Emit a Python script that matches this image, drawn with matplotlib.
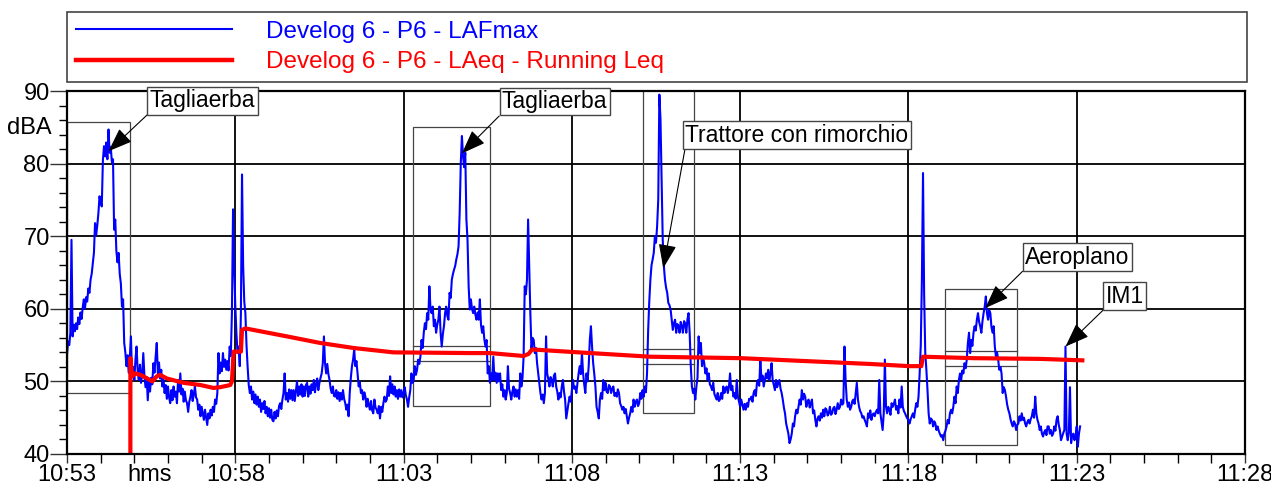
import matplotlib
matplotlib.use('Agg')
import numpy as np
import matplotlib.pyplot as plt
import matplotlib.transforms as mtransforms
from matplotlib.lines import Line2D
from matplotlib.patches import Rectangle
from matplotlib.ticker import MultipleLocator

plt.rcParams['font.family'] = ['Liberation Sans', 'DejaVu Sans']

# LAFmax, one value every 2 s from 10:53:00 (one row = 30 s), dB(A)
laf_step = 2
laf_db = [
    53.7, 55.5, 55.0, 56.7, 69.5, 56.2, 57.8, 56.9, 58.0, 57.2, 58.8, 57.9, 59.5, 58.6, 60.2,
    61.3, 60.0, 61.6, 61.0, 62.8, 62.2, 64.0, 64.8, 66.3, 67.7, 71.8, 70.2, 71.5, 73.2, 75.5,
    74.6, 74.1, 80.5, 82.4, 81.0, 82.9, 80.6, 84.7, 81.5, 82.3, 80.2, 80.6, 70.9, 72.3, 68.0,
    66.4, 67.7, 64.8, 63.5, 60.3, 61.3, 55.3, 54.0, 52.1, 53.6, 51.2, 53.4, 56.2, 50.6, 52.0,
    50.2, 53.0, 54.8, 51.4, 50.2, 52.3, 49.8, 51.0, 53.9, 50.8, 49.2, 50.6, 47.4, 50.2, 48.6,
    50.5, 49.6, 52.5, 51.2, 53.4, 55.3, 51.1, 52.6, 50.4, 51.6, 49.3, 50.2, 48.4, 49.5, 47.6,
    49.3, 47.8, 47.0, 48.8, 47.4, 49.3, 47.9, 48.6, 47.0, 50.2, 48.6, 51.1, 48.2, 49.0, 47.2,
    48.6, 47.4, 47.0, 45.8, 47.2, 47.9, 48.8, 47.3, 48.2, 49.3, 47.8, 47.5, 46.1, 46.8, 45.2,
    46.5, 45.6, 44.7, 46.1, 45.0, 44.0, 45.6, 44.9, 46.1, 45.3, 46.5, 45.8, 47.5, 46.9, 48.4,
    53.9, 51.1, 52.6, 51.4, 53.9, 52.0, 53.0, 51.6, 52.8, 51.5, 54.8, 53.5, 59.4, 73.7, 66.0,
    60.5, 56.7, 53.9, 54.8, 52.1, 59.4, 78.5, 66.0, 61.0, 59.4, 55.0, 52.0, 49.5, 48.4, 49.3,
    47.5, 48.6, 47.0, 48.2, 46.8, 47.9, 46.5, 47.5, 45.8, 47.0, 46.2, 47.3, 45.6, 46.5, 45.2,
    46.3, 45.0, 46.1, 44.7, 44.5, 45.8, 44.9, 46.0, 45.2, 46.6, 47.0, 46.2, 47.5, 48.4, 51.1,
    47.5, 48.4, 47.2, 48.9, 47.6, 48.8, 47.4, 48.8, 47.3, 48.6, 50.0, 48.0, 49.3, 48.2, 49.6,
    47.9, 49.3, 48.0, 49.5, 49.8, 47.9, 49.3, 48.3, 49.6, 48.8, 50.2, 48.5, 49.6, 50.4, 48.8,
    49.8, 50.5, 51.1, 52.5, 56.2, 52.5, 51.1, 52.4, 51.0, 50.2, 49.0, 48.4, 49.3, 48.0, 47.9,
    48.8, 47.6, 48.5, 47.3, 48.4, 47.5, 48.8, 47.6, 47.0, 46.1, 46.8, 45.2, 48.4, 50.5, 52.1,
    53.0, 54.4, 52.1, 52.8, 51.1, 49.3, 49.9, 48.4, 48.8, 47.5, 48.5, 47.9, 46.5, 47.6, 46.8,
    46.1, 47.3, 46.0, 45.6, 47.5, 46.4, 46.1, 45.6, 46.6, 44.9, 46.5, 45.8, 47.0, 47.9, 47.2,
    47.5, 49.3, 48.0, 50.7, 48.4, 49.6, 48.2, 49.3, 47.9, 48.8, 47.6, 48.9, 47.9, 48.8, 47.8,
    48.4, 49.2, 48.1, 47.5, 46.5, 47.8, 48.8, 51.1, 49.8, 50.2, 52.1, 50.9, 51.6, 53.0, 52.4,
    53.4, 55.7, 54.6, 56.7, 58.0, 57.2, 59.4, 58.5, 63.1, 60.0, 59.4, 60.3, 57.6, 58.5, 56.7,
    57.8, 58.5, 60.3, 56.7, 54.8, 56.5, 57.6, 59.4, 60.3, 59.0, 58.5, 62.2, 61.5, 64.0, 64.8,
    65.4, 65.9, 66.8, 67.5, 68.6, 73.2, 80.1, 83.8, 81.0, 79.5, 81.5, 72.3, 69.5, 63.1, 59.9,
    61.3, 60.0, 59.4, 60.3, 59.2, 58.5, 59.5, 58.5, 61.3, 57.8, 56.7, 57.6, 55.8, 54.8, 55.7,
    51.1, 52.1, 49.8, 51.1, 50.2, 53.4, 50.2, 51.2, 49.8, 51.1, 50.0, 51.1, 48.8, 49.6, 47.9,
    48.8, 47.5, 48.4, 52.1, 49.0, 48.4, 47.5, 48.6, 49.3, 47.9, 48.9, 47.9, 48.8, 47.6, 51.1,
    49.3, 50.5, 53.4, 63.1, 62.0, 64.0, 72.3, 65.9, 59.4, 54.4, 56.0, 55.7, 53.9, 54.6, 52.5,
    51.1, 49.8, 48.4, 47.5, 48.2, 47.0, 48.4, 56.2, 51.1, 50.3, 49.3, 50.6, 50.2, 49.3, 50.8,
    51.1, 49.3, 48.6, 47.5, 48.4, 47.8, 49.3, 50.2, 48.6, 47.5, 44.9, 46.0, 47.0, 47.9, 47.2,
    48.8, 50.2, 49.0, 49.3, 48.4, 49.8, 51.1, 52.1, 51.0, 53.9, 51.1, 49.6, 48.4, 51.1, 50.0,
    52.1, 55.7, 57.6, 54.8, 52.5, 51.0, 49.3, 46.5, 45.8, 44.9, 47.5, 48.4, 47.6, 50.2, 48.8,
    49.8, 48.6, 48.4, 49.5, 49.3, 48.4, 49.0, 49.3, 48.0, 48.4, 47.9, 48.9, 48.4, 47.0, 46.6,
    46.1, 46.5, 45.6, 46.2, 45.2, 44.2, 45.0, 45.6, 46.5, 45.8, 47.5, 46.5, 47.2, 47.5, 46.6,
    47.0, 48.4, 47.6, 48.8, 47.9, 49.3, 48.5, 51.1, 57.0, 61.0, 64.0, 66.0, 66.8, 67.7, 70.0,
    69.1, 71.4, 75.0, 89.5, 86.1, 77.8, 69.5, 65.9, 64.0, 62.9, 62.2, 60.8, 60.5, 59.9, 58.5,
    57.1, 58.0, 58.5, 56.7, 57.9, 57.6, 56.7, 58.2, 57.6, 56.7, 58.3, 58.0, 56.7, 58.5, 59.4,
    56.7, 52.1, 49.3, 48.4, 49.0, 47.5, 49.3, 50.5, 56.2, 53.9, 55.3, 52.1, 53.4, 52.5, 51.1,
    51.8, 50.2, 51.1, 49.6, 49.3, 48.8, 49.8, 48.3, 47.9, 47.5, 48.4, 47.3, 47.5, 48.4, 47.6,
    49.3, 48.4, 49.0, 49.3, 48.4, 49.2, 51.1, 48.8, 49.4, 47.9, 48.4, 47.6, 50.2, 47.9, 47.2,
    46.5, 47.5, 46.8, 46.1, 46.9, 46.1, 47.0, 46.5, 47.6, 47.5, 47.9, 47.2, 48.4, 48.8, 48.0,
    49.8, 50.2, 49.4, 53.0, 50.2, 50.8, 49.3, 50.2, 51.1, 50.4, 51.6, 50.2, 51.0, 52.5, 50.2,
    49.5, 48.8, 50.2, 49.2, 49.8, 50.2, 49.0, 48.4, 47.5, 46.4, 45.6, 44.2, 43.5, 42.8, 41.5,
    42.0, 42.8, 44.2, 43.8, 45.2, 46.1, 45.6, 46.5, 47.5, 46.8, 48.8, 47.5, 48.3, 47.9, 46.5,
    47.2, 47.5, 46.4, 47.0, 47.5, 45.6, 46.0, 44.7, 43.8, 44.9, 45.2, 44.6, 45.6, 45.0, 46.1,
    45.2, 46.3, 46.1, 45.3, 45.6, 46.5, 45.4, 45.6, 46.3, 46.5, 45.5, 46.1, 47.0, 46.2, 46.5,
    47.5, 46.8, 47.0, 54.8, 50.2, 47.5, 46.5, 47.1, 46.1, 46.5, 47.3, 47.5, 46.9, 48.4, 49.8,
    47.5, 46.5, 45.9, 45.6, 45.0, 45.2, 44.7, 44.3, 43.8, 45.6, 45.0, 46.0, 44.7, 45.4, 45.6,
    45.2, 45.8, 46.1, 45.6, 50.2, 45.6, 44.5, 43.3, 45.6, 53.0, 46.5, 45.6, 46.5, 46.1, 45.4,
    47.0, 46.5, 46.9, 47.5, 46.1, 46.6, 45.6, 47.5, 46.4, 49.3, 46.5, 45.9, 45.6, 45.2, 44.9,
    44.7, 44.2, 44.8, 45.2, 45.6, 45.0, 46.1, 47.0, 46.5, 47.9, 51.1, 55.0, 64.0, 78.7, 62.0,
    53.9, 51.6, 48.8, 45.6, 44.2, 44.9, 44.7, 43.8, 44.5, 44.2, 43.3, 43.8, 43.2, 42.8, 42.4,
    42.6, 41.9, 42.8, 43.2, 43.8, 44.7, 44.2, 45.6, 46.1, 45.6, 46.5, 47.9, 47.0, 49.3, 48.4,
    50.2, 51.1, 50.2, 51.5, 51.1, 52.5, 51.8, 53.0, 55.3, 56.7, 53.9, 55.7, 54.9, 56.7, 57.6,
    57.0, 58.5, 59.4, 58.2, 57.6, 56.7, 58.3, 59.4, 60.3, 61.7, 59.4, 58.5, 59.8, 59.4, 57.5,
    56.7, 57.6, 54.8, 53.4, 54.0, 53.0, 51.6, 52.0, 51.1, 48.4, 49.2, 48.8, 47.9, 46.8, 46.1,
    45.6, 44.8, 44.2, 43.8, 44.5, 44.2, 43.3, 44.0, 44.2, 45.2, 44.6, 45.6, 44.7, 45.0, 44.2,
    43.8, 44.4, 44.7, 44.2, 44.8, 45.2, 46.1, 45.0, 47.9, 45.6, 44.7, 44.2, 43.3, 43.8, 42.8,
    42.4, 43.0, 43.3, 42.6, 43.8, 43.8, 42.8, 43.3, 42.5, 42.8, 43.8, 43.2, 44.7, 45.2, 44.0,
    43.3, 41.9, 42.4, 42.9, 43.3, 54.8, 42.8, 41.9, 43.0, 49.2, 41.5, 42.6, 42.8, 41.9, 42.5,
    43.8, 41.0, 42.8, 43.8]

# LAeq running Leq, seconds after 10:53:00
leq_t = [113, 113, 116, 122, 131, 143, 152, 160, 166, 178, 208, 238, 261, 273, 291, 294, 297, 310, 312, 318, 392, 451,
         511, 582, 719, 754, 814, 823, 829, 891, 1040, 1201, 1432, 1502, 1523, 1526, 1616, 1735, 1810]
leq_db = [36.0, 53.2, 50.7, 51.1, 50.9, 50.4, 50.0, 50.7, 50.9, 50.4, 49.8, 49.5, 49.1, 49.2, 49.5, 50.0, 54.1, 54.1,
          57.1, 57.3, 56.2, 55.3, 54.6, 54.0, 53.9, 53.9, 53.5, 53.8, 54.4, 54.1, 53.4, 53.2, 52.4, 52.1, 52.1, 53.4,
          53.2, 53.1, 52.9]

# marker regions: start, end, min level, max level, inner levels
box_t0 = [0, 617, 1027, 1565]
box_t1 = [113, 754, 1118, 1694]
box_lo = [48.4, 46.6, 45.7, 41.3]
box_hi = [85.7, 85.0, 92.0, 62.7]
box_inner = [[], [54.9, 52.8], [54.5, 52.4], [54.2, 52.1]]

# annotations
ann_labels = ['Tagliaerba', 'Tagliaerba', 'Trattore con rimorchio', 'Aeroplano', 'IM1']
ann_t = [74, 704, 1063, 1637, 1780]
ann_db = [81.7, 81.4, 65.6, 60.1, 54.8]
ann_text_t = [143, 771, 1098, 1704, 1847]
ann_text_db = [86.7, 86.6, 82.0, 65.2, 59.8]

tick_pos = [0, 300, 600, 900, 1200, 1500, 1800, 2100]
tick_labels = ['10:53', '10:58', '11:03', '11:08', '11:13', '11:18', '11:23', '11:28']

laf_t = np.arange(len(laf_db)) * laf_step

fig = plt.figure(figsize=(12.71, 4.94), dpi=100)
ax = fig.add_axes([67/1271, 40/494, 1178/1271, 363/494])

for t0, t1, lo, hi, inner in zip(box_t0, box_t1, box_lo, box_hi, box_inner):
    ax.add_patch(Rectangle((t0, lo), t1 - t0, hi - lo, fill=False, ec='#444444', lw=0.9, zorder=2))
    for lv in inner:
        ax.plot([t0, t1], [lv, lv], color='#444444', lw=0.9, zorder=2)

ax.plot(laf_t, laf_db, color='#0000ff', lw=1.5, zorder=3)
ax.plot(leq_t, leq_db, color='#ff0000', lw=3, zorder=4)

ax.set_xlim(0, 2100)
ax.set_ylim(40, 90)
ax.set_xticks(tick_pos)
ax.set_xticklabels(tick_labels)
ax.xaxis.set_minor_locator(MultipleLocator(60))
ax.yaxis.set_major_locator(MultipleLocator(10))
ax.yaxis.set_minor_locator(MultipleLocator(2))
ax.tick_params(axis='both', which='major', labelsize=17, colors='#333333', labelcolor='black')
ax.tick_params(axis='x', which='both', length=6.5, width=1, pad=1)
ax.tick_params(axis='y', which='major', length=12, width=1, pad=0.5)
ax.tick_params(axis='y', which='minor', length=5.5, width=1)
ax.grid(True, which='major', color='black', lw=1.3)
for s in ax.spines.values():
    s.set_linewidth(1.6)
    s.set_zorder(5)

ax.annotate('hms', xy=(148, 0), xycoords=('data', 'axes fraction'), xytext=(0, -7.5),
            textcoords='offset points', ha='center', va='top', fontsize=17)
ax.annotate('dBA', xy=(0, 84.9), xycoords=('axes fraction', 'data'), xytext=(-11, 0),
            textcoords='offset points', ha='right', va='center', fontsize=17)

for lab, x, y, tx, ty in zip(ann_labels, ann_t, ann_db, ann_text_t, ann_text_db):
    tr = mtransforms.offset_copy(ax.transData, fig=fig, x=2.5, y=2.5, units='dots')
    ax.annotate(lab, xy=(x, y), xytext=(tx, ty), textcoords=tr, ha='left', va='bottom',
                fontsize=16.5, annotation_clip=False, zorder=6,
                bbox=dict(boxstyle='square,pad=0.1', fc='white', ec='#444444', lw=1),
                arrowprops=dict(arrowstyle='-|>,head_length=0.75,head_width=0.28', color='black',
                                lw=0.8, mutation_scale=20, shrinkA=0, shrinkB=0, relpos=(0, 0)))

handles = [Line2D([], [], color='#0000ff', lw=1.5), Line2D([], [], color='#ff0000', lw=3.2)]
labels = ['Develog 6 - P6 - LAFmax', 'Develog 6 - P6 - LAeq - Running Leq']
leg = fig.legend(handles, labels, loc='upper left', mode='expand',
                 bbox_to_anchor=(67/1271, 1 - 78/494, 1180/1271, 66/494), borderaxespad=0,
                 fontsize=17.5, handlelength=6.45, handletextpad=1.4, borderpad=0.35,
                 labelspacing=0.35, fancybox=False, edgecolor='#444444', framealpha=1,
                 labelcolor='linecolor')
leg.get_frame().set_linewidth(1.2)

fig.savefig('out.png', dpi=100)
